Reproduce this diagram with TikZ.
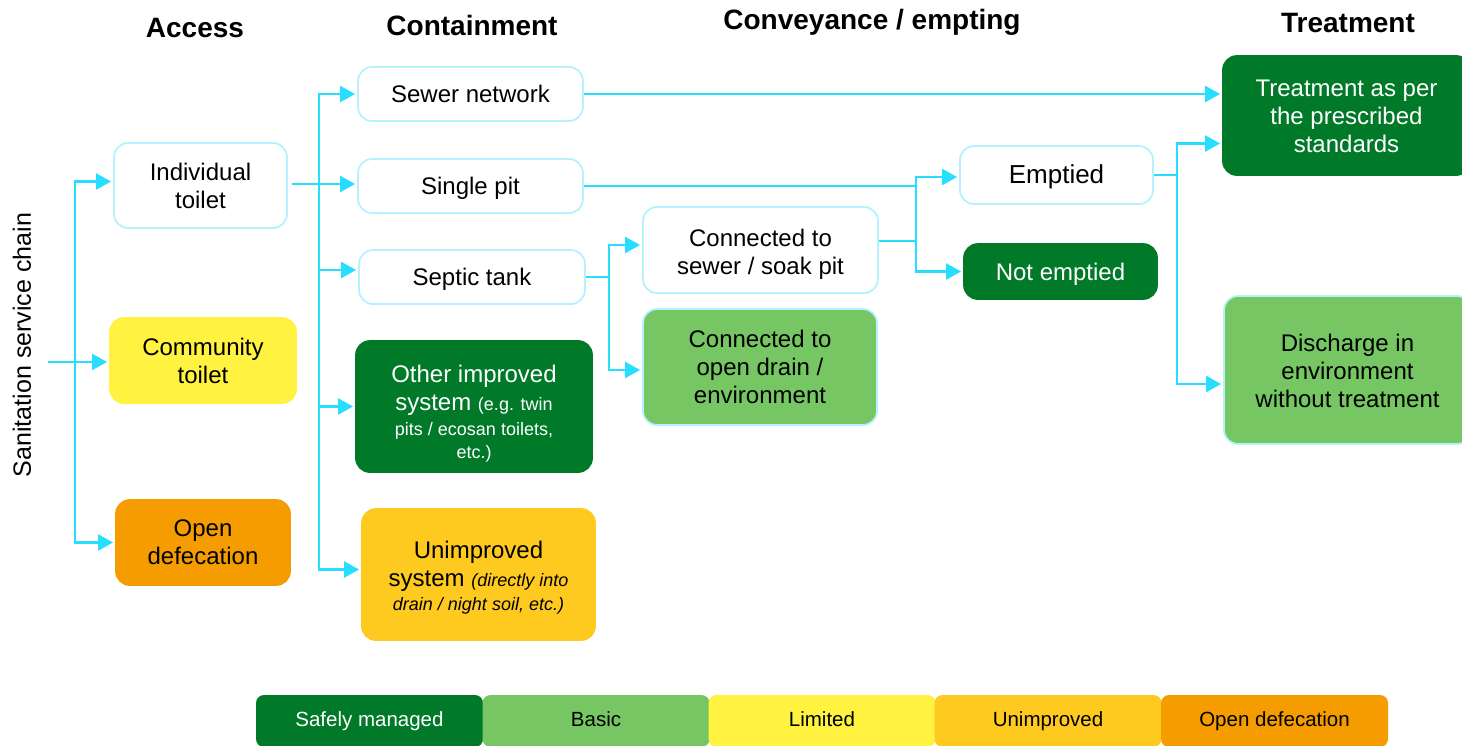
\documentclass[tikz,border=0pt]{standalone}
\usepackage{fontspec}
\setmainfont{Liberation Sans}
\usetikzlibrary{arrows.meta}

\definecolor{safegreen}{RGB}{0,122,40}
\definecolor{basicgreen}{RGB}{118,199,99}
\definecolor{limyellow}{RGB}{255,242,64}
\definecolor{unimpyellow}{RGB}{255,202,32}
\definecolor{odorange}{RGB}{245,156,0}
\definecolor{flowcyan}{RGB}{40,222,255}
\definecolor{rimcyan}{RGB}{182,241,255}

\begin{document}
\begin{tikzpicture}[x=1pt, y=-1pt,
  box/.style={draw=rimcyan, line width=1.8pt, fill=white, rounded corners=14pt,
    align=center, inner sep=0pt, font=\fontsize{24}{28}\selectfont},
  oneline/.style={text height=20pt, text depth=3pt},
  safebox/.style={box, fill=safegreen, draw=safegreen, text=white},
  basicbox/.style={box, fill=basicgreen},
  limbox/.style={box, fill=limyellow, draw=limyellow},
  unimpbox/.style={box, fill=unimpyellow, draw=unimpyellow},
  odbox/.style={box, fill=odorange, draw=odorange},
  head/.style={font=\fontsize{28}{32}\selectfont\bfseries},
  legbox/.style={minimum width=227pt, minimum height=52pt, inner sep=0pt,
    text height=15pt, text depth=4pt,
    rounded corners=8pt, font=\fontsize{20.5}{24}\selectfont},
  wire/.style={draw=flowcyan, line width=2.2pt},
  conn/.style={wire, shorten >=2pt, -{Triangle[length=15pt,width=16pt]}}]

  \useasboundingbox (0,0) rectangle (1462,745);

  % column heads
  \node[head] (hacc) at (195,28) {Access};
  \node[head] (hcont) at (472,25) {Containment};
  \node[head] (hconv) at (872,22) {Conveyance / empting};
  \node[head] (htreat) at (1348,23) {Treatment};

  \node[rotate=90, font=\fontsize{25}{30}\selectfont] (chain) at (22,345) {Sanitation service chain};

  % access
  \node[box, minimum width=173pt, minimum height=85pt] (indiv) at (200.5,185.5) {Individual\\toilet};
  \node[limbox, minimum width=186pt, minimum height=85pt] (commu) at (203,360.5) {Community\\toilet};
  \node[odbox, minimum width=174pt, minimum height=85pt] (opendef) at (203,542.5) {Open\\defecation};

  % containment
  \node[box, oneline, minimum width=225pt, minimum height=54pt] (sewer) at (470.5,94) {Sewer network};
  \node[box, oneline, minimum width=225pt, minimum height=54pt] (single) at (470.5,186) {Single pit};
  \node[box, oneline, minimum width=226pt, minimum height=54pt] (septic) at (472,277) {Septic tank};
  \node[safebox, minimum width=236pt, minimum height=131pt] (other) at (474,406.5)
    {\rule{0pt}{31pt}Other improved\\system {\fontsize{18}{22}\selectfont(e.g. twin}\\[-3pt]
     {\fontsize{18}{22}\selectfont pits / ecosan toilets,}\\[-5pt]
     {\fontsize{18}{22}\selectfont etc.)}};
  \node[unimpbox, minimum width=233pt, minimum height=131pt] (unimp) at (478.5,574.5)
    {\rule{0pt}{23pt}Unimproved\\system {\fontsize{18}{22}\selectfont\itshape(directly into}\\[-4pt]
     {\fontsize{18}{22}\selectfont\itshape drain / night soil, etc.)}};

  % conveyance / emptying
  \node[box, minimum width=235pt, minimum height=86pt] (consewer) at (760.5,250) {\rule{0pt}{25pt}Connected to\\sewer / soak pit};
  \node[basicbox, minimum width=234pt, minimum height=116pt] (condrain) at (760,367) {Connected to\\open drain /\\environment};
  \node[box, oneline, minimum width=193pt, minimum height=58pt, font=\fontsize{26}{30}\selectfont] (emptied) at (1056.5,175) {Emptied};
  \node[safebox, oneline, minimum width=193pt, minimum height=55pt] (notempt) at (1060.5,271.5) {Not emptied};

  % treatment
  \node[safebox, minimum width=247pt, minimum height=119pt] (treat) at (1346.5,115.5) {\rule{0pt}{19pt}Treatment as per\\the prescribed\\standards};
  \node[basicbox, minimum width=247pt, minimum height=148pt] (discharge) at (1347.5,370) {\rule{0pt}{19pt}Discharge in\\environment\\without treatment};

  % connectors
  \coordinate (root) at (48,362);
  \coordinate (acc) at (75,362);
  \draw[conn] (root) -- (root -| commu.west);
  \draw[conn] (acc) |- ([yshift=4pt]indiv.west);
  \draw[conn] (acc) |- (opendef.west);

  \coordinate (cont) at (319,184);
  \draw[conn] ([xshift=4pt,yshift=1.5pt]indiv.east) -- (cont -| single.west);
  \draw[conn] (cont) |- (sewer.west);
  \draw[conn] (cont) |- ([yshift=7pt]septic.west);
  \draw[conn] (cont) |- (other.west);
  \draw[conn] (cont) |- ([yshift=5pt]unimp.west);

  \draw[conn] (sewer.east) -- (sewer.east -| treat.west);

  \coordinate (sep) at (609,277);
  \draw[wire] (septic.east) -- (sep);
  \draw[conn] (sep) |- ([yshift=5pt]consewer.west);
  \draw[conn] (sep) |- ([yshift=-3pt]condrain.west);

  \coordinate (emp) at (916,186);
  \draw[wire] (single.east) -- (emp);
  \draw[wire] ([yshift=9pt]consewer.east) -- ([yshift=9pt]consewer.east -| emp);
  \draw[conn] (emp) |- ([yshift=-2pt]emptied.west);
  \draw[conn] (emp) |- (notempt.west);

  \coordinate (trt) at (1177,175);
  \draw[wire] (emptied.east) -- (trt);
  \draw[conn] (trt) |- ([yshift=-28pt]treat.west);
  \draw[conn] (trt) |- ([yshift=-14pt]discharge.west);

  % legend
  \node[legbox, fill=safegreen, text=white] (leg1) at (369.5,721) {Safely managed};
  \node[legbox, fill=basicgreen] (leg2) at (596,721) {Basic};
  \node[legbox, fill=limyellow] (leg3) at (822,721) {Limited};
  \node[legbox, fill=unimpyellow] (leg4) at (1048,721) {Unimproved};
  \node[legbox, fill=odorange] (leg5) at (1274.5,721) {Open defecation};
\end{tikzpicture}
\end{document}
